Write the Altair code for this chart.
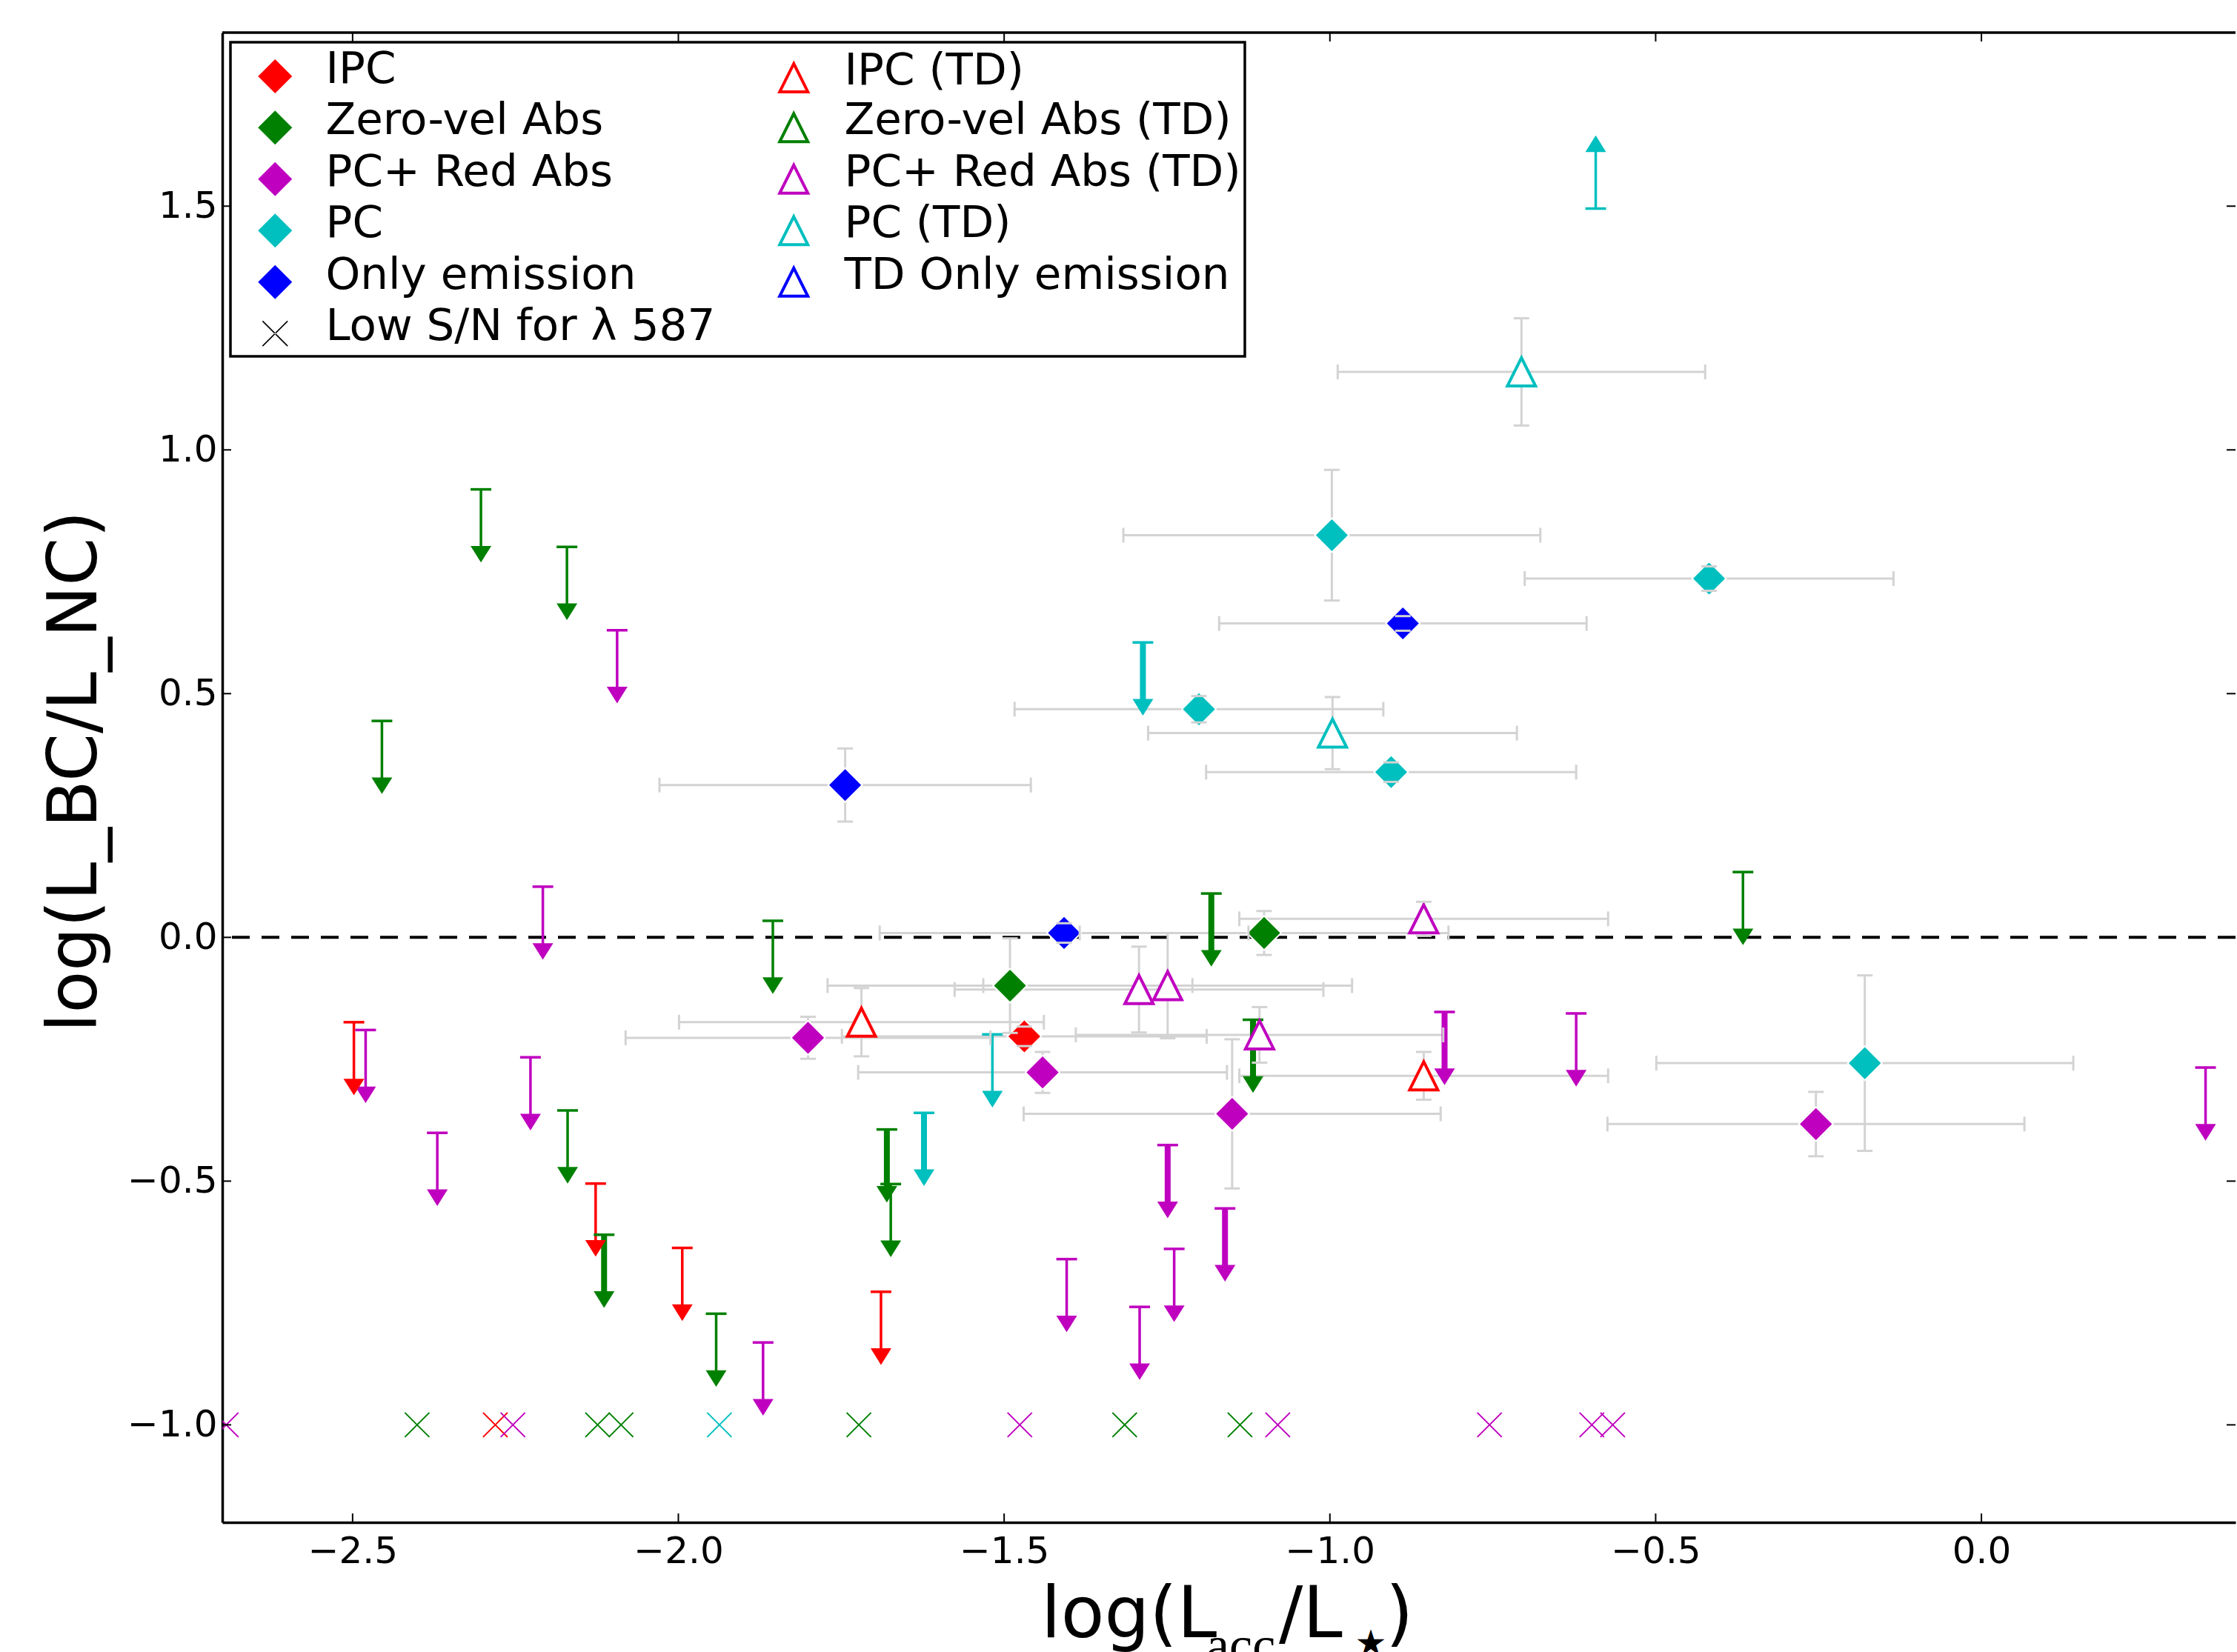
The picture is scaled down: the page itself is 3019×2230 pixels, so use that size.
import altair as alt
import pandas as pd

# ---------------- data ----------------
CATS = ["IPC", "Zero-vel Abs", "PC+ Red Abs", "PC", "Only emission"]
CAT_COLORS = ["#ff0000", "#008000", "#bf00bf", "#00bfbf", "#0000ff"]

# filled diamonds (with error bars)
dia_cat = ["IPC", "Zero-vel Abs", "Zero-vel Abs", "PC+ Red Abs", "PC+ Red Abs", "PC+ Red Abs",
           "PC+ Red Abs", "PC", "PC", "PC", "PC", "PC", "Only emission", "Only emission", "Only emission"]
dia_x = [-1.469, -1.491, -1.101, -1.801, -1.441, -1.150, -0.254, -0.997, -0.418, -1.201, -0.906,
         -0.179, -1.744, -0.888, -1.408]
dia_y = [-0.203, -0.099, 0.009, -0.206, -0.277, -0.362, -0.383, 0.825, 0.736, 0.468, 0.339,
         -0.258, 0.3125, 0.644, 0.009]
dia_xerr = [0.28, 0.28, 0.283, 0.28, 0.283, 0.32, 0.32, 0.32, 0.283, 0.283, 0.284, 0.32, 0.285, 0.282, 0.283]
dia_yerr = [0.02, 0.097, 0.045, 0.043, 0.042, 0.153, 0.066, 0.134, 0.025, 0.027, 0.02, 0.18, 0.075, 0.015, 0.02]

# open triangles, transition disks (with error bars)
tri_cat = ["IPC", "IPC", "PC+ Red Abs", "PC+ Red Abs", "PC+ Red Abs", "PC+ Red Abs", "PC", "PC"]
tri_x = [-1.719, -0.856, -1.293, -1.249, -1.108, -0.856, -0.706, -0.996]
tri_y = [-0.174, -0.284, -0.107, -0.099, -0.200, 0.038, 1.160, 0.419]
tri_xerr = [0.28, 0.283, 0.283, 0.283, 0.282, 0.283, 0.282, 0.283]
tri_yerr = [0.07, 0.049, 0.088, 0.108, 0.057, 0.035, 0.11, 0.074]

# upper / lower limits (arrows)
arr_cat = (["Zero-vel Abs"] * 12 + ["PC+ Red Abs"] * 14 + ["IPC"] * 4 + ["PC"] * 4)
arr_x = [-2.303, -2.171, -2.455, -1.855, -2.170, -2.114, -1.942, -1.680, -1.674, -1.182, -1.118, -0.366,
         -2.094, -2.208, -2.480, -2.227, -2.370, -1.870, -1.249, -1.161, -1.404, -1.239, -1.292, -0.824,
         -0.622, 0.344,
         -2.498, -2.127, -1.994, -1.689,
         -1.287, -1.518, -1.623, -0.592]
arr_y = [0.919, 0.801, 0.444, 0.034, -0.355, -0.610, -0.772, -0.394, -0.506, 0.090, -0.169, 0.134,
         0.630, 0.104, -0.190, -0.246, -0.401, -0.831, -0.426, -0.556, -0.660, -0.639, -0.758, -0.153,
         -0.156, -0.267,
         -0.174, -0.505, -0.637, -0.727,
         0.605, -0.199, -0.360, 1.495]
arr_dir = ["down"] * 33 + ["up"]
arr_weight = ["thin", "thin", "thin", "thin", "thin", "thick", "thin", "thick", "thin", "thick", "thick", "thin",
              "thin", "thin", "thin", "thin", "thin", "thin", "thick", "thick", "thin", "thin", "thin", "thick",
              "thin", "thin",
              "thin", "thin", "thin", "thin",
              "thick", "thin", "thick", "thin"]
ARROW_LEN = 0.15

# low S/N crosses
low_cat = ["PC+ Red Abs", "Zero-vel Abs", "IPC", "PC+ Red Abs", "Zero-vel Abs", "Zero-vel Abs", "PC",
           "Zero-vel Abs", "PC+ Red Abs", "Zero-vel Abs", "Zero-vel Abs", "PC+ Red Abs", "PC+ Red Abs",
           "PC+ Red Abs", "PC+ Red Abs"]
low_x = [-2.694, -2.401, -2.281, -2.254, -2.124, -2.088, -1.937, -1.723, -1.476, -1.315, -1.138, -1.080,
         -0.755, -0.598, -0.566]
low_y = [-1.0, -1.0, -1.0, -1.0, -1.0, -1.0, -1.0, -1.0, -1.0, -1.0, -1.0, -1.0, -1.0, -1.0, -1.0]

xtick_vals = [-2.5, -2.0, -1.5, -1.0, -0.5, 0.0]
ytick_vals = [-1.0, -0.5, 0.0, 0.5, 1.0, 1.5]

# legend entries, listed column by column (left column, then right column)
LEG = ["IPC", "Zero-vel Abs", "PC+ Red Abs", "PC", "Only emission", "Low S/N for \u03bb 587",
       "IPC (TD)", "Zero-vel Abs (TD)", "PC+ Red Abs (TD)", "PC (TD)", "TD Only emission"]

Y_TITLE = "log(L_BC/L_NC)"

# ---------------- styling ----------------
W, H = 2717, 2011
XS = alt.Scale(domain=[-2.7, 0.39], nice=False, zero=False)
YS = alt.Scale(domain=[-1.2, 1.856], nice=False, zero=False)
CS = alt.Scale(domain=CATS, range=CAT_COLORS)
GRAY = "#d3d3d3"

DIA_SIZE = 2116
TRI_PATH = "M0,-1L1,1L-1,1Z"
X_PATH = "M-1,-1L1,1M-1,1L1,-1"
HEAD_DOWN = "M-1,-1.6L1,-1.6L0,0Z"
HEAD_UP = "M-1,1.6L1,1.6L0,0Z"

LEG_DIA = "M0,-1.39L1,-0.39L0,0.61L-1,-0.39Z"
LEG_TRI = "M0,-1.216L0.826,0.436L-0.826,0.436Z"
LEG_X = ("M-0.76,-1.10L-0.71,-1.15L0.76,0.32L0.71,0.37Z"
         "M0.76,-1.10L0.71,-1.15L-0.76,0.32L-0.71,0.37Z")
leg_fill = ["#ff0000", "#008000", "#bf00bf", "#00bfbf", "#0000ff", "black",
            "white", "white", "white", "white", "white"]
leg_stroke = ["transparent"] * 6 + ["#ff0000", "#008000", "#bf00bf", "#00bfbf", "#0000ff"]
leg_shape = [LEG_DIA] * 5 + [LEG_X] + [LEG_TRI] * 5

X_AX = alt.Axis(values=xtick_vals, format=".1f", labelFlush=False, labelPadding=14)
Y_AX = alt.Axis(values=ytick_vals, format=".1f", labelPadding=7, titleX=-171, titleY=997,
                titleAngle=270, titleAlign="center", titleBaseline="alphabetic", titleFontSize=93)


def X(f):
    return alt.X(f"{f}:Q", scale=XS, axis=X_AX, title=None)


def Y(f):
    return alt.Y(f"{f}:Q", scale=YS, axis=Y_AX, title=Y_TITLE)


def C():
    return alt.Color("cat:N", scale=CS, legend=None)


# ---------------- tables ----------------
pts = pd.DataFrame({
    "cat": dia_cat + tri_cat,
    "x": dia_x + tri_x,
    "y": dia_y + tri_y,
    "xerr": dia_xerr + tri_xerr,
    "yerr": dia_yerr + tri_yerr,
    "kind": ["dia"] * len(dia_x) + ["tri"] * len(tri_x),
})
arr = pd.DataFrame({"cat": arr_cat, "x": arr_x, "y": arr_y, "dir": arr_dir, "w": arr_weight})
low = pd.DataFrame({"cat": low_cat, "x": low_x, "y": low_y})
leg = pd.DataFrame({"legend": LEG})
one = pd.DataFrame({"v": [0.0]})
xt = pd.DataFrame({"v": xtick_vals})
yt = pd.DataFrame({"v": ytick_vals})

# ---------------- layers ----------------
zero_line = alt.Chart(one).mark_rule(color="black", strokeWidth=4, strokeDash=[24, 16]).encode(y=Y("v"))

perr = alt.Chart(pts).transform_calculate(
    xlo="datum.x - datum.xerr", xhi="datum.x + datum.xerr",
    ylo="datum.y - datum.yerr", yhi="datum.y + datum.yerr")
xbars = perr.mark_rule(color=GRAY, strokeWidth=3).encode(x=X("xlo"), x2="xhi:Q", y=Y("y"))
ybars = perr.mark_rule(color=GRAY, strokeWidth=3).encode(x=X("x"), y=Y("ylo"), y2="yhi:Q")
xcaps = perr.transform_fold(["xlo", "xhi"], as_=["end", "xv"]).mark_tick(
    orient="vertical", size=20, thickness=3, color=GRAY, opacity=1).encode(x=X("xv"), y=Y("y"))
ycaps = perr.transform_fold(["ylo", "yhi"], as_=["end", "yv"]).mark_tick(
    orient="horizontal", size=21, thickness=3, color=GRAY, opacity=1).encode(x=X("x"), y=Y("yv"))

abase = alt.Chart(arr).transform_calculate(
    tip=f"datum.dir == 'up' ? datum.y + {ARROW_LEN} : datum.y - {ARROW_LEN}",
    lend=f"datum.dir == 'up' ? datum.y + {ARROW_LEN} - 0.02 : datum.y - {ARROW_LEN} + 0.02")
a_thin = abase.transform_filter("datum.w == 'thin'").mark_rule(strokeWidth=3.5).encode(
    x=X("x"), y=Y("y"), y2="lend:Q", color=C())
a_thick = abase.transform_filter("datum.w == 'thick'").mark_rule(strokeWidth=8).encode(
    x=X("x"), y=Y("y"), y2="lend:Q", color=C())
a_caps = abase.mark_tick(orient="horizontal", size=28, thickness=3.5, opacity=1).encode(
    x=X("x"), y=Y("y"), color=C())
a_down = abase.transform_filter("datum.dir == 'down'").mark_point(
    filled=True, shape=HEAD_DOWN, size=784, opacity=1).encode(x=X("x"), y=Y("tip"), color=C())
a_up = abase.transform_filter("datum.dir == 'up'").mark_point(
    filled=True, shape=HEAD_UP, size=784, opacity=1).encode(x=X("x"), y=Y("tip"), color=C())

diamonds = alt.Chart(pts).transform_filter("datum.kind == 'dia'").mark_point(
    filled=True, shape="diamond", size=DIA_SIZE, stroke="white", strokeWidth=2, opacity=1).encode(
    x=X("x"), y=Y("y"), color=C())
triangles = alt.Chart(pts).transform_filter("datum.kind == 'tri'").mark_point(
    filled=False, shape=TRI_PATH, size=1444, strokeWidth=4, opacity=1).encode(
    x=X("x"), y=Y("y"), color=C(), fill=alt.value("white"))

crosses = alt.Chart(low).mark_point(filled=False, shape=X_PATH, size=1089, strokeWidth=2,
                                    opacity=1, clip=True).encode(x=X("x"), y=Y("y"), color=C())

frame_top = alt.Chart(one).mark_rule(color="black", strokeWidth=3.5).encode(
    x=alt.value(0), x2=alt.value(W), y=alt.value(0))
t_bottom = alt.Chart(xt).mark_rule(color="black", strokeWidth=2).encode(
    x=X("v"), y=alt.value(H), y2=alt.value(H - 12))
t_top = alt.Chart(xt).mark_rule(color="black", strokeWidth=2).encode(
    x=X("v"), y=alt.value(0), y2=alt.value(12))
t_left = alt.Chart(yt).mark_rule(color="black", strokeWidth=2).encode(
    y=Y("v"), x=alt.value(0), x2=alt.value(12))
t_right = alt.Chart(yt).mark_rule(color="black", strokeWidth=2).encode(
    y=Y("v"), x=alt.value(W), x2=alt.value(W - 12))

LEG_OBJ = alt.Legend(title=" ")
legend_layer = alt.Chart(leg).mark_point(filled=False, opacity=1, size=DIA_SIZE, clip=True).encode(
    x=alt.value(-500), y=alt.value(-500),
    shape=alt.Shape("legend:N", scale=alt.Scale(domain=LEG, range=leg_shape), legend=LEG_OBJ),
    fill=alt.Fill("legend:N", scale=alt.Scale(domain=LEG, range=leg_fill), legend=LEG_OBJ),
    stroke=alt.Stroke("legend:N", scale=alt.Scale(domain=LEG, range=leg_stroke), legend=LEG_OBJ),
)


def tpart(s, x, y, size, font, align="left"):
    return alt.Chart(pd.DataFrame({"t": [s]})).mark_text(
        align=align, baseline="alphabetic", font=font, fontSize=size, color="black").encode(
        x=alt.value(x), y=alt.value(y), text="t:N")


xtitle = [
    tpart("log(L", 1105, 2166, 96, "DejaVu Sans"),
    tpart("acc", 1328, 2200, 70, "Liberation Serif"),
    tpart("/L", 1426, 2166, 96, "DejaVu Sans"),
    tpart("\u2605", 1550, 2190, 48, "DejaVu Sans", "center"),
    tpart(")", 1570, 2166, 96, "DejaVu Sans"),
]

chart = alt.layer(
    zero_line, xbars, ybars, a_thin, a_thick, a_caps, a_down, a_up,
    diamonds, triangles, xcaps, ycaps, crosses,
    frame_top, t_bottom, t_top, t_left, t_right, legend_layer, *xtitle
).properties(
    width=W, height=H,
    autosize=alt.AutoSizeParams(type="none"),
    padding={"left": 300, "top": 44, "right": 2, "bottom": 175},
    background="white",
).configure_view(strokeWidth=0).configure_axis(
    grid=False, ticks=False, tickSize=0, domainColor="black", domainWidth=3.5,
    labelFont="DejaVu Sans", labelFontSize=50, labelColor="black",
    titleFont="DejaVu Sans", titleColor="black", titleFontWeight="normal",
).configure_legend(
    orient="none", legendX=11, legendY=13, columns=2, columnPadding=50, rowPadding=-1.5,
    padding=5, strokeColor="black", strokeWidth=3.5, fillColor="white", cornerRadius=0,
    titleFontSize=8, titlePadding=12, titleColor="white",
    labelFont="DejaVu Sans", labelFontSize=59.5, labelColor="black", labelBaseline="alphabetic",
    labelLimit=2000, labelOffset=38.5, symbolSize=DIA_SIZE, symbolStrokeWidth=4, symbolOffset=25.5,
    symbolOpacity=1,
)

chart.save("out.html", embed_options={"renderer": "svg", "actions": False})
